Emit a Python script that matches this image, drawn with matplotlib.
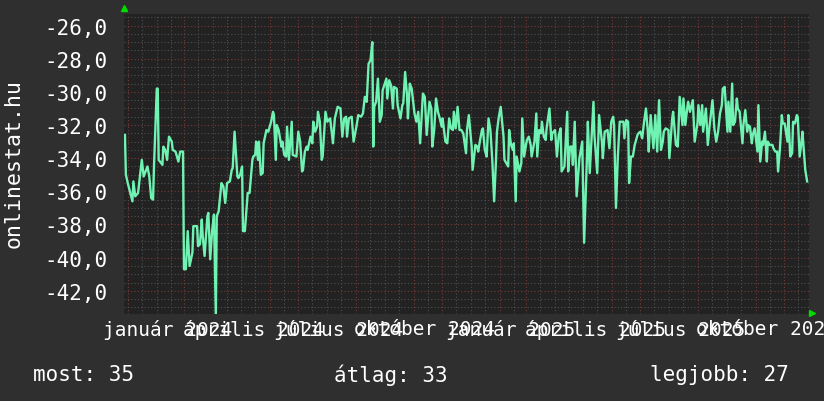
import matplotlib
matplotlib.use("Agg")
import matplotlib.pyplot as plt
import matplotlib.dates as mdates
from matplotlib.ticker import MultipleLocator, FuncFormatter, NullFormatter
from datetime import date, timedelta

# first day of the series, values are given as day offsets from it
start = date(2023, 12, 28)
end_day = 731

days = [1, 2, 4, 9, 10, 12, 15, 19, 21, 25, 27, 29, 31, 32, 35, 36, 37, 41, 42, 44,
        46, 48, 51, 52, 55, 58, 60, 63, 64, 66, 68, 70, 73, 74, 78, 79, 81, 83, 84, 86,
        89, 90, 92, 94, 96, 98, 99, 101, 104, 106, 108, 110, 113, 115, 116, 118, 121, 122, 124, 126,
        127, 129, 131, 132, 134, 137, 138, 140, 141, 143, 144, 146, 148, 149, 152, 154, 157, 159, 160, 162,
        163, 165, 168, 169, 171, 173, 174, 176, 179, 180, 184, 186, 188, 190, 191, 193, 195, 196, 199, 201,
        202, 204, 206, 207, 209, 211, 212, 215, 217, 220, 223, 225, 228, 231, 233, 235, 237, 238, 240, 243,
        245, 248, 250, 253, 255, 257, 259, 261, 263, 265, 266, 267, 269, 271, 273, 275, 276, 280, 281, 283,
        285, 287, 288, 291, 292, 295, 297, 298, 300, 302, 303, 305, 307, 310, 312, 314, 316, 319, 321, 323,
        326, 328, 329, 331, 333, 335, 337, 339, 340, 343, 345, 347, 349, 351, 352, 354, 356, 358, 360, 362,
        365, 366, 368, 371, 372, 375, 377, 378, 380, 382, 383, 385, 387, 389, 391, 393, 395, 397, 398, 400,
        402, 405, 406, 408, 410, 411, 413, 415, 416, 418, 419, 422, 424, 425, 427, 429, 430, 432, 434, 435,
        438, 440, 441, 443, 445, 446, 448, 450, 451, 454, 456, 457, 460, 462, 464, 466, 467, 470, 473, 474,
        476, 478, 479, 481, 483, 486, 489, 491, 494, 495, 497, 501, 502, 505, 507, 510, 511, 513, 516, 518,
        520, 522, 523, 525, 527, 529, 533, 534, 536, 538, 539, 541, 543, 545, 548, 549, 551, 553, 555, 557,
        559, 560, 562, 565, 567, 569, 571, 573, 575, 576, 578, 581, 582, 585, 586, 589, 591, 593, 596, 597,
        599, 601, 602, 604, 607, 609, 612, 613, 615, 617, 618, 621, 623, 625, 628, 630, 632, 634, 636, 638,
        639, 641, 644, 645, 647, 649, 650, 652, 654, 655, 657, 660, 661, 663, 665, 666, 668, 670, 671, 673,
        676, 677, 679, 681, 682, 684, 686, 687, 689, 692, 693, 695, 697, 698, 700, 702, 703, 705, 708, 709,
        711, 713, 714, 716, 718, 719, 721, 723, 724, 727, 729]

values = [-32.6, -35.0, -35.5, -36.6, -35.4, -36.3, -36.1, -34.1, -35.1, -34.5, -35.1, -36.4, -36.5, -34.5, -29.8, -29.8, -34.1, -34.4, -33.3, -33.5,
          -34.1, -32.7, -33.0, -33.5, -33.6, -34.2, -33.6, -33.6, -40.7, -40.7, -38.4, -40.5, -39.7, -38.1, -38.1, -39.3, -39.2, -37.7, -38.7, -39.9,
          -37.5, -37.3, -40.1, -38.4, -37.4, -43.5, -37.5, -37.2, -35.5, -35.7, -36.7, -35.5, -35.4, -34.7, -34.6, -32.4, -35.1, -35.2, -35.0, -34.5,
          -38.4, -38.4, -36.9, -36.1, -36.1, -34.1, -33.9, -33.8, -33.0, -34.1, -33.0, -35.0, -34.9, -33.1, -32.3, -32.4, -31.8, -31.2, -31.4, -34.1,
          -32.0, -32.3, -33.3, -33.0, -33.8, -33.9, -32.1, -34.1, -31.8, -33.8, -33.9, -32.4, -33.0, -34.8, -34.7, -33.6, -33.3, -33.5, -32.7, -33.1,
          -31.8, -32.4, -32.1, -31.2, -31.8, -34.1, -33.9, -31.2, -31.8, -31.6, -33.1, -31.6, -30.9, -31.0, -32.7, -31.6, -31.5, -32.7, -31.6, -31.5,
          -33.0, -32.1, -31.4, -31.5, -31.3, -30.3, -30.6, -28.3, -28.1, -27.0, -33.3, -30.9, -30.6, -29.2, -31.8, -31.4, -29.9, -29.2, -30.4, -29.3,
          -29.6, -31.0, -29.7, -29.8, -30.8, -31.6, -30.8, -30.7, -28.8, -30.2, -31.6, -29.5, -29.8, -31.3, -31.8, -31.2, -33.1, -30.1, -30.3, -32.6,
          -30.6, -31.0, -33.3, -32.3, -30.4, -31.2, -31.6, -32.1, -31.6, -33.0, -33.1, -31.6, -32.2, -32.3, -31.2, -32.2, -30.9, -32.3, -32.3, -32.5,
          -33.7, -32.3, -31.4, -33.3, -34.7, -33.2, -33.3, -33.6, -32.9, -32.3, -32.2, -33.5, -33.9, -31.6, -32.3, -34.1, -36.6, -34.1, -32.4, -31.5,
          -30.9, -32.7, -34.1, -34.3, -34.5, -32.3, -33.2, -33.5, -33.1, -36.6, -33.9, -34.8, -34.3, -31.6, -33.9, -33.2, -32.9, -32.7, -33.2, -33.9,
          -33.0, -31.3, -33.9, -32.3, -32.5, -31.8, -32.7, -32.9, -32.2, -31.0, -32.9, -32.5, -32.3, -33.9, -32.6, -32.2, -34.8, -34.5, -31.2, -34.8,
          -33.3, -33.3, -34.4, -31.8, -36.3, -34.0, -33.0, -39.1, -34.0, -31.8, -34.9, -30.6, -32.6, -34.9, -31.4, -33.0, -34.0, -32.4, -32.3, -33.4,
          -31.8, -31.5, -32.0, -37.0, -33.9, -31.8, -31.8, -32.8, -31.7, -31.8, -35.5, -33.9, -33.9, -33.2, -32.6, -32.5, -32.4, -32.8, -31.8, -31.0,
          -32.4, -33.6, -31.4, -33.4, -31.4, -33.6, -30.5, -33.5, -33.0, -32.4, -32.2, -32.3, -34.0, -31.6, -31.2, -33.2, -33.3, -30.3, -32.0, -30.4,
          -32.0, -31.0, -30.6, -31.2, -30.5, -33.0, -31.9, -30.8, -32.0, -30.8, -32.4, -31.0, -33.2, -32.0, -30.5, -32.2, -33.0, -32.4, -31.3, -30.8,
          -29.8, -29.7, -32.4, -30.6, -32.4, -29.5, -32.0, -31.8, -30.4, -31.0, -31.2, -33.1, -32.0, -31.1, -32.4, -32.0, -32.1, -33.1, -32.6, -32.2,
          -33.6, -30.8, -34.2, -33.0, -33.2, -32.4, -34.2, -33.0, -33.2, -33.2, -33.4, -33.6, -33.6, -34.8, -33.4, -31.4, -31.9, -31.9, -33.0, -31.4,
          -33.9, -33.7, -31.8, -31.9, -31.4, -31.5, -33.9, -33.0, -32.4, -34.7, -35.4]

# quarter labels, each one "month year"
quarter_dates = ["2024-01-01", "2024-04-01", "2024-07-01", "2024-10-01",
                 "2025-01-01", "2025-04-01", "2025-07-01", "2025-10-01"]
quarter_labels = ["január 2024", "április 2024", "július 2024", "október 2024",
                  "január 2025", "április 2025", "július 2025", "október 2025"]

stat_labels = ["most: 35", "átlag: 33", "legjobb: 27"]

bg = "#2f2f2f"
plot_bg = "#222222"
line_color = "#6ff2b2"
mono = "DejaVu Sans Mono"

x = [mdates.date2num(start + timedelta(days=d)) for d in days]

fig = plt.figure(figsize=(8.24, 4.02), dpi=100, facecolor=bg)
ax = fig.add_axes([124 / 824, 87 / 402, 685 / 824, 300 / 402])
ax.set_facecolor(plot_bg)

ax.plot(x, values, color=line_color, linewidth=1.7, zorder=3)

ax.set_xlim(mdates.date2num(start), mdates.date2num(start + timedelta(days=end_day)))
ax.set_ylim(-43.4, -25.3)

# grid: red dotted majors, gray dotted minors
ax.yaxis.set_major_locator(MultipleLocator(2))
ax.yaxis.set_minor_locator(MultipleLocator(0.5))
ax.xaxis.set_major_locator(mdates.MonthLocator())
ax.xaxis.set_minor_locator(mdates.MonthLocator(bymonthday=16))
ax.grid(which="minor", color="#505050", linestyle=(0, (1, 2)), linewidth=0.8, zorder=1)
ax.grid(which="major", color="#7a3838", linestyle=(0, (1, 2)), linewidth=0.8, zorder=2)

ax.yaxis.set_major_formatter(FuncFormatter(lambda v, p: f"{v:.1f}".replace(".", ",")))
ax.xaxis.set_major_formatter(NullFormatter())
ax.tick_params(axis="y", which="both", length=0, pad=12, labelcolor="white", labelsize=15)
ax.tick_params(axis="x", which="both", length=0)
for lbl in ax.get_yticklabels():
    lbl.set_family(mono)
for s in ax.spines.values():
    s.set_visible(False)

# x labels sit a bit right of their tick, as in the original tool
qnum = [mdates.date2num(date.fromisoformat(q)) for q in quarter_dates]
for q, name in zip(qnum, quarter_labels):
    ax.annotate(name, xy=(q, 0), xycoords=("data", "axes fraction"),
                xytext=(40, -15), textcoords="offset pixels", ha="center", va="center",
                color="white", fontsize=14, family=mono, annotation_clip=False)

# green axis arrows
ax.plot([0], [1.02], marker="^", color="#00dd00", markersize=5, transform=ax.transAxes, clip_on=False)
ax.plot([1.005], [0.004], marker=">", color="#00dd00", markersize=5, transform=ax.transAxes, clip_on=False)

fig.text(0.016, 0.593, "onlinestat.hu", rotation=90, ha="center", va="center",
         color="white", fontsize=15.5, family=mono)

for xpos, txt in zip([33 / 824, 334 / 824, 650 / 824], stat_labels):
    fig.text(xpos, 0.067, txt, ha="left", va="center", color="white", fontsize=15, family=mono)

fig.savefig("out.png", dpi=100, facecolor=bg)
